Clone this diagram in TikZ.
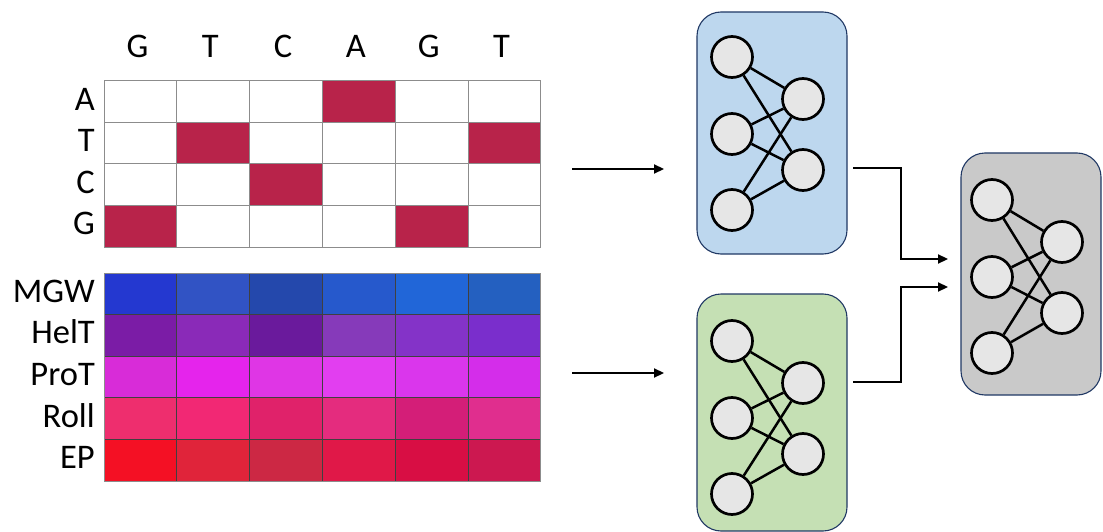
\documentclass[tikz,border=0pt]{standalone}
\usepackage{fontspec}
\setmainfont{Carlito}
\usepackage{xcolor}
\definecolor{hotred}{HTML}{B8234A}
\definecolor{gridgray}{HTML}{8C8C8C}
\definecolor{netblue}{HTML}{BDD7EE}
\definecolor{netgreen}{HTML}{C5E0B4}
\definecolor{netgray}{HTML}{C9C9C9}
\definecolor{boxline}{HTML}{203864}
\definecolor{unitgray}{HTML}{E6E6E6}
\usepackage{tikz}
\usetikzlibrary{arrows.meta}

\begin{document}
\begin{tikzpicture}[x=1pt, y=-1pt, font=\fontsize{34.5}{40}\selectfont,
    unit/.style={circle, draw, line width=2.7pt, fill=unitgray, minimum size=41pt, inner sep=0pt},
    netbox/.style={draw=boxline, line width=1.1pt, rounded corners=24pt},
    link/.style={line width=2.5pt},
    flow/.style={line width=2.2pt, -{Triangle[length=10pt, width=9pt]}},
    lbl/.style={anchor=base east, inner sep=0pt}] % One-hot and shape input

      \newcommand\cw{72.83}
      \newcommand\rh{41.5}
      \newcommand\sh{41.6}

      \useasboundingbox (0,0) rectangle (1103,532);

      % one-hot grid
      \fill [white] (104,81) rectangle ++(6*\cw,4*\rh);
      \foreach \r/\c in {1/4, 2/2, 2/6, 3/3, 4/1, 4/5}
        \fill [hotred] (104+\c*\cw-\cw, 81+\r*\rh-\rh) rectangle ++(\cw,\rh);
      \foreach \c in {0,...,6}
        \draw [gridgray, line width=1pt] (104+\c*\cw, 81) -- ++(0,4*\rh);
      \foreach \r in {0,...,4}
        \draw [gridgray, line width=1pt] (104, 81+\r*\rh) -- ++(6*\cw,0);

      \foreach \b [count=\c from 0] in {G,T,C,A,G,T}
        \node [anchor=base, inner sep=0pt] (base\c) at (104+\c*\cw+0.5*\cw-3, 58) {\b};
      \foreach \b [count=\r from 0] in {A,T,C,G}
        \node [lbl] (row\b) at (95, 81+\r*\rh+0.5*\rh+8.5) {\b};

      % shape grid
      \foreach \row [count=\r from 0] in {
          {2438D0,3153C4,2448AC,2659CC,2166D8,2460C0},
          {7B1CA6,8A2AB8,6A1A9C,863ABA,8433C8,7A2ECC},
          {D82CD8,E524EC,DF36E5,E23EF0,DA36EC,D42DEA},
          {EE2E6E,F22874,E0226A,E42C7E,D41E78,E02E8E},
          {F41024,E0243A,CC2844,E01848,D80E44,CC1850}}
        \foreach \hex [count=\c from 0] in \row {
          \definecolor{cellcol}{HTML}{\hex}
          \fill [cellcol] (104+\c*\cw, 273+\r*\sh) rectangle ++(\cw,\sh);
        }
      \foreach \c in {1,...,5}
        \draw [black!75, line width=0.9pt] (104+\c*\cw, 273) -- ++(0,5*\sh);
      \foreach \r in {1,...,4}
        \draw [black!75, line width=0.9pt] (104, 273+\r*\sh) -- ++(6*\cw,0);
      \draw [gridgray, line width=1pt] (104,273) rectangle ++(6*\cw,5*\sh);

      \foreach \s [count=\r from 0] in {MGW,HelT,ProT,Roll,EP}
        \node [lbl] (shape\r) at (95, 273+\r*\sh+0.5*\sh+8.5) {\s};

      % networks
      \node [netbox, fill=netblue, minimum width=150pt, minimum height=242pt] (bluNet) at (772,133) {};
      \node [netbox, fill=netgreen, minimum width=150pt, minimum height=237pt] (grnNet) at (772,412.5) {};
      \node [netbox, fill=netgray, minimum width=140pt, minimum height=242pt] (gryNet) at (1031,274) {};

      \foreach \n/\lx/\rx/\ty in {blu/732/803/57, grn/732/803/341, gry/992/1062/200} {
        \foreach \i/\dy in {1/0, 2/77, 3/153}
          \node [unit] (\n-l\i) at (\lx,\ty+\dy) {};
        \foreach \j/\dy in {1/42, 2/113}
          \node [unit] (\n-r\j) at (\rx,\ty+\dy) {};
        \foreach \i in {1,2,3}
          \foreach \j in {1,2}
            \draw [link] (\n-l\i) -- (\n-r\j);
      }

      % connectors
      \coordinate (seqFrom) at (572,169);
      \coordinate (seqTo) at (664,169);
      \coordinate (shpFrom) at (572,373);
      \coordinate (shpTo) at (664,373);
      \coordinate (bluOut) at (853,168);
      \coordinate (grnOut) at (853,382);
      \coordinate (gryInA) at (948,259);
      \coordinate (gryInB) at (948,287);

      \draw [flow] (seqFrom) -- (seqTo);
      \draw [flow] (shpFrom) -- (shpTo);
      \draw [flow] (bluOut) -- ++(48,0) |- (gryInA);
      \draw [flow] (grnOut) -- ++(48,0) |- (gryInB);

    \end{tikzpicture}
\end{document}
